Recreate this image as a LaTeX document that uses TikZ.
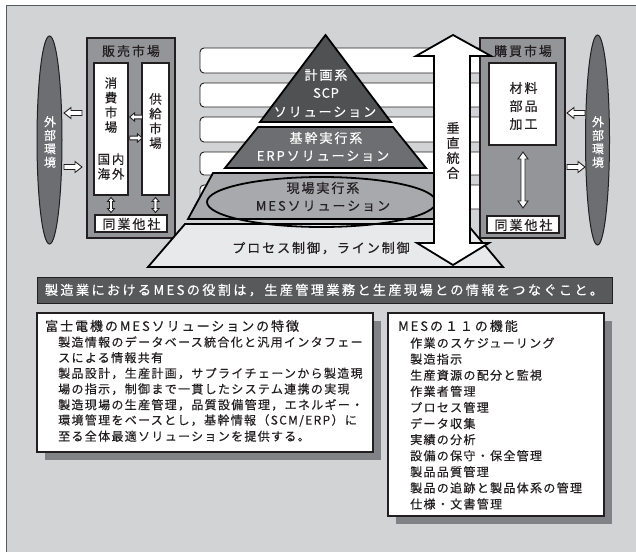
\documentclass[tikz,border=0pt]{standalone}
\usepackage{fontspec}
\newfontfamily\jpA[LetterSpace=15, FakeBold=0.35]{Noto Sans CJK JP}
\newfontfamily\jpB[LetterSpace=11, FakeBold=0.35]{Noto Sans CJK JP}
\newfontfamily\jpC[LetterSpace=17.5, FakeBold=0.35]{Noto Sans CJK JP}
\newfontfamily\jpD[LetterSpace=6, FakeBold=0.35]{Noto Sans CJK JP}
\newcommand\mfL{\jpA\fontsize{13}{15}\selectfont}
\newcommand\mfS{\jpB\fontsize{12}{14}\selectfont}
\newcommand\mfV{\jpA\fontsize{12.5}{14.7}\selectfont}
\newcommand\mfE{\jpB\fontsize{12}{13.5}\selectfont}
\newcommand\mfB{\jpC\fontsize{13.2}{15}\selectfont}
\definecolor{bgc}{HTML}{D1D3D4}
\definecolor{framec}{HTML}{58595B}
\definecolor{inkc}{HTML}{231F20}
\definecolor{topc}{HTML}{505153}
\definecolor{erpc}{HTML}{6D6E71}
\definecolor{mesc}{HTML}{A7A9AC}
\definecolor{procc}{HTML}{E8E9EA}
\definecolor{mktc}{HTML}{939598}
\definecolor{envc}{HTML}{6D6E71}
\definecolor{shadc}{HTML}{808285}
\definecolor{banc}{HTML}{58595B}
\begin{document}
\begin{tikzpicture}[x=1pt,y=-1pt,
  strip/.style={draw=inkc, fill=white, line width=0.9pt, rounded corners=4pt},
  pyr/.style={draw=black, line width=1.8pt, line join=miter},
  mkt/.style={draw=inkc, fill=mktc, line width=1.1pt},
  wbox/.style={draw=inkc, fill=white, line width=1.1pt},
  arrline/.style={draw=inkc, fill=white, line width=0.9pt, line join=miter},
  env/.style={draw=inkc, fill=envc, line width=1pt},
  lbl/.style={inner sep=0pt, text=inkc, font=\mfL},
  vlbl/.style={inner sep=0pt, text=inkc, font=\mfV, align=center},
  item/.style={inner sep=0pt, text=inkc, font=\mfS, anchor=west},
  harrow/.pic={\draw[arrline] (-9,-2.5) -- (2,-2.5) -- (2,-5.5) -- (9,0) -- (2,5.5) -- (2,2.5) -- (-9,2.5) -- cycle;}
]
\useasboundingbox (0,0) rectangle (636,551);
\fill[white] (0,0) rectangle (636,551);
\filldraw[fill=bgc, draw=framec, line width=1pt] (6,6) rectangle (644,560);

% strips behind the pyramid
\foreach \t/\b in {48/73,83/107,117/142,152/175,185/209}
  \draw[strip] (200,\t) rectangle (486,\b);

% ---- left market box
\draw[mkt] (87,38) rectangle (175,238);
\node[lbl] (hanbai) at (131,51) {販売市場};
\draw[wbox] (94,63) rectangle (128,195);
\draw[wbox] (142,63) rectangle (169,195);
\node[vlbl] (shohi) at (111,105) {消\\費\\市\\場};
\node[vlbl] (kokunai) at (111,166.5) {国内\\海外};
\node[vlbl] (kyokyu) at (155.5,121) {供\\給\\市\\場};
\pic[xscale=-0.7, yscale=0.75] at (136,117) {harrow};
\pic[xscale=0.7, yscale=0.75] at (136,138) {harrow};
\foreach \xx in {111,155.5}
  \draw[arrline, shift={(\xx,205)}] (0,-7.5) -- (3.5,-3.5) -- (1.5,-3.5) -- (1.5,3.5) -- (3.5,3.5) -- (0,7.5) -- (-3.5,3.5) -- (-1.5,3.5) -- (-1.5,-3.5) -- (-3.5,-3.5) -- cycle;
\draw[wbox] (95,215) rectangle (167,232);
\node[lbl] (dogyoL) at (131.5,224) {同業他社};

% ---- right market box
\draw[mkt] (480,38) rectangle (565,238);
\node[lbl] (kobai) at (523,51) {購買市場};
\draw[wbox] (489,63) rectangle (556,145);
\node[lbl, align=center, font=\jpA\fontsize{13}{18}\selectfont] (zairyo) at (523.5,106) {材料\\部品\\加工};
\draw[arrline, shift={(523,180)}] (0,-28) -- (5,-21) -- (2,-21) -- (2,21) -- (5,21) -- (0,28) -- (-5,21) -- (-2,21) -- (-2,-21) -- (-5,-21) -- cycle;
\draw[wbox] (487,216) rectangle (559,233);
\node[lbl] (dogyoR) at (523.5,225) {同業他社};

% ---- pyramid
\filldraw[pyr, fill=procc] (185,224) -- (467,224) -- (503,267) -- (148,267) -- cycle;
\filldraw[pyr, fill=mesc] (213,173) -- (438,173) -- (463,219) -- (188,219) -- cycle;
\draw[line width=1.8pt, draw=black] (321.5,202) ellipse [x radius=114.5pt, y radius=25pt];
\filldraw[pyr, fill=erpc] (258,127) -- (393,127) -- (426,168) -- (225,168) -- cycle;
\filldraw[pyr, fill=topc] (325.5,35) -- (391,122) -- (260,122) -- cycle;

\node[lbl, text=white] (keikaku) at (326,75) {計画系};
\node[lbl, text=white, font=\jpD\fontsize{13}{15}\selectfont] (scp) at (326,93) {SCP};
\node[lbl, text=white] (sol1) at (325,112) {ソリューション};
\node[lbl, text=white] (kikan) at (326,138) {基幹実行系};
\node[lbl, text=white] (erp) at (323,156) {ERPソリューション};
\node[lbl] (genba) at (323,188) {現場実行系};
\node[lbl] (mes) at (323,206) {MESソリューション};
\node[lbl] (process) at (321,248) {プロセス制御，ライン制御};

% ---- vertical integration arrow
\filldraw[draw=black, fill=white, line width=1.8pt, line join=miter]
  (453,35) -- (491,56) -- (470,56) -- (470,243) -- (489,243) -- (453,265)
  -- (417,243) -- (434,243) -- (434,56) -- (416,56) -- cycle;
\node[vlbl, font=\jpA\fontsize{13}{15}\selectfont] (suichoku) at (453,150.5) {垂\\直\\統\\合};

% ---- external environment
\draw[env] (49.5,140) ellipse [x radius=12.5pt, y radius=104pt];
\node[vlbl, text=white, font=\mfE] (gaibuL) at (50,142) {外\\部\\環\\境};
\draw[env] (597.5,140) ellipse [x radius=12pt, y radius=105pt];
\node[vlbl, text=white, font=\mfE] (gaibuR) at (598,142) {外\\部\\環\\境};
\pic[xscale=-1] at (73,113) {harrow};
\pic at (73,167) {harrow};
\pic[xscale=-1] at (576,113) {harrow};
\pic at (576,167) {harrow};

% ---- banner
\filldraw[fill=banc, draw=inkc, line width=1pt] (37,277) rectangle (612,303);
\node[lbl, text=white, font=\mfB] (banner) at (324,290) {製造業におけるMESの役割は，生産管理業務と生産現場との情報をつなぐこと。};

% ---- left feature box
\fill[shadc] (45,321) rectangle (381,460);
\draw[wbox] (37,313) rectangle (373,452);
\node[item, font=\mfL] (fuji) at (45,326) {富士電機のMESソリューションの特徴};
\node[item] (f1) at (58,342) {製造情報のデータベース統合化と汎用インタフェー};
\node[item] (f2) at (58,357.7) {スによる情報共有};
\node[item] (f3) at (58,373.4) {製品設計，生産計画，サプライチェーンから製造現};
\node[item] (f4) at (58,389.1) {場の指示，制御まで一貫したシステム連携の実現};
\node[item] (f5) at (58,404.8) {製造現場の生産管理，品質設備管理，エネルギー・};
\node[item] (f6) at (58,420.5) {環境管理をベースとし，基幹情報（SCM/ERP）に};
\node[item] (f7) at (58,436.2) {至る全体最適ソリューションを提供する。};

% ---- right function box
\fill[shadc] (396,321) rectangle (612,524);
\draw[wbox] (388,313) rectangle (604,516);
\node[item, font=\mfL] (mes11) at (398,326) {MESの１１の機能};
\foreach \txt [count=\i from 0] in {作業のスケジューリング,製造指示,生産資源の配分と監視,作業者管理,プロセス管理,データ収集,実績の分析,設備の保守・保全管理,製品品質管理,製品の追跡と製品体系の管理,仕様・文書管理}
  \node[item] (m\i) at (410,343+16.1*\i) {\txt};
\end{tikzpicture}
\end{document}
